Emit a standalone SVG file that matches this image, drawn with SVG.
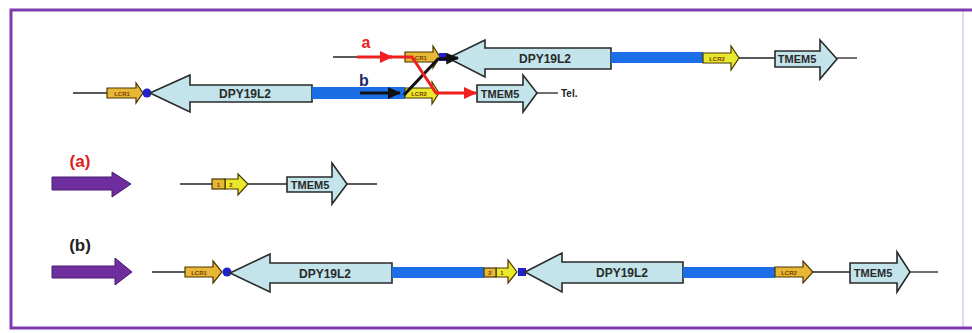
<svg xmlns="http://www.w3.org/2000/svg" width="972" height="333" viewBox="0 0 972 333">
<defs>
<style>
.frame{stroke:#7a3cae;stroke-width:3;fill:none}
.dna{stroke:#222;stroke-width:1.3;fill:none}
.gene{fill:#c2e4ea;stroke:#2a2a2a;stroke-width:1.6;stroke-linejoin:miter}
.lcr1{fill:#e6b836;stroke:#4a3500;stroke-width:1.2}
.lcr2{fill:#e8e82c;stroke:#4a3500;stroke-width:1.2}
.bar{fill:#1c6ee6}
.dot{fill:#2222cc}
.glab{font-family:"Liberation Sans",Arial,sans-serif;font-weight:bold;font-size:12px;fill:#2a2a2a;text-anchor:middle}
.llab{font-family:"Liberation Sans",Arial,sans-serif;font-weight:bold;font-size:6px;fill:#7a3a00;text-anchor:middle}
.purple{fill:#6e2e9e;stroke:#4a1c70;stroke-width:1}
.red{stroke:#f02020;stroke-width:3;fill:none}
.blk{stroke:#111;stroke-width:3;fill:none}
</style>
<marker id="ar" markerUnits="userSpaceOnUse" markerWidth="14" markerHeight="12" refX="12" refY="6" orient="auto"><path d="M0,0 L13,6 L0,12 z" fill="#f02020"/></marker>
<marker id="ab" markerUnits="userSpaceOnUse" markerWidth="14" markerHeight="12" refX="12" refY="6" orient="auto"><path d="M0,0 L13,6 L0,12 z" fill="#111"/></marker>
</defs>
<rect x="0" y="0" width="972" height="333" fill="#ffffff"/>
<line x1="963" y1="10" x2="963" y2="328" stroke="#e6d6ee" stroke-width="2"/>
<path class="frame" d="M972,10 L11,10 L11,328 L972,328"/>

<!-- top row, lower line -->
<g id="row1-lower">
<line class="dna" x1="73" y1="93" x2="108" y2="93"/>
<g id="lcr1-a"><polygon class="lcr1" points="107,88 136,88 136,83 143,93 136,103 136,98 107,98"/><text class="llab" x="122" y="95.5">LCR1</text></g>
<circle class="dot" cx="147" cy="93" r="4.5"/>
<g id="dpy-a"><polygon class="gene" points="150,93 190,75 190,85 312,85 312,102 190,102 190,112"/><text class="glab" x="245" y="98">DPY19L2</text></g>
<rect class="bar" x="312" y="87" width="93" height="12"/>
<g id="lcr2-a"><polygon class="lcr2" points="405,88 432,88 432,82 439,93 432,104 432,98 405,98"/><text class="llab" x="419" y="95.5">LCR2</text></g>
<line class="dna" x1="537" y1="93" x2="558" y2="93"/>
<g id="tmem-a"><polygon class="gene" points="477,85 523,85 523,75 537,93 523,112 523,102 477,102"/><text class="glab" x="500" y="97.5" style="font-size:11px">TMEM5</text></g>
<text x="561" y="97" style="font-family:'Liberation Sans',Arial,sans-serif;font-weight:bold;font-size:10px;fill:#222">Tel.</text>
</g>

<!-- top row, upper line -->
<g id="row1-upper">
<line class="dna" x1="333" y1="57" x2="406" y2="57"/>
<g id="lcr1-b"><polygon class="lcr1" points="405,52 433,52 433,46 440,57 433,68 433,62 405,62"/><text class="llab" x="419" y="59.5">LCR1</text></g>
<rect class="dot" x="439" y="53" width="8" height="8" fill="#2222aa"/>
<g id="dpy-b"><polygon class="gene" points="448,58 485,40 485,48 611,48 611,69 485,69 485,77"/><text class="glab" x="545" y="63">DPY19L2</text></g>
<rect class="bar" x="611" y="52" width="92" height="11"/>
<g id="lcr2-b"><polygon class="lcr2" points="703,53 731,53 731,46 739,58 731,70 731,63 703,63"/><text class="llab" x="717" y="60.5">LCR2</text></g>
<line class="dna" x1="739" y1="58" x2="775" y2="58"/>
<line class="dna" x1="837" y1="58" x2="857" y2="58"/>
<g id="tmem-b"><polygon class="gene" points="775,51 820,51 820,40 837,59 820,79 820,67 775,67"/><text class="glab" x="797" y="63" style="font-size:11px">TMEM5</text></g>
</g>

<!-- crossover connectors -->
<g id="connectors">
<text x="366" y="48" style="font-family:'Liberation Sans',Arial,sans-serif;font-weight:bold;font-size:16px;fill:#f02020;text-anchor:middle">a</text>
<text x="364" y="86" style="font-family:'Liberation Sans',Arial,sans-serif;font-weight:bold;font-size:16px;fill:#1a2a6a;text-anchor:middle">b</text>
<line class="red" x1="357" y1="57" x2="392" y2="57" marker-end="url(#ar)"/>
<line class="blk" x1="360" y1="93" x2="400" y2="93" marker-end="url(#ab)"/>
<path class="blk" d="M404,95 L438,59 L458,58" marker-end="url(#ab)"/>
<path class="red" d="M390,57 L412,57 L436,93 L476,93" marker-end="url(#ar)"/>
</g>

<!-- row (a) -->
<g id="row-a">
<text x="80" y="167" style="font-family:'Liberation Sans',Arial,sans-serif;font-weight:bold;font-size:17px;fill:#e02020;text-anchor:middle">(a)</text>
<polygon class="purple" points="52,177 112,177 112,172 131,184 112,197 112,190 52,190"/>
<line class="dna" x1="180" y1="184" x2="377" y2="184"/>
<g id="lcr-12"><polygon class="lcr2" points="225,179 238,179 238,174 248,184 238,195 238,189 225,189"/><rect class="lcr1" x="212" y="179" width="13" height="10"/><text class="llab" x="218.5" y="186.5">1</text><text class="llab" x="231" y="186.5">2</text></g>
<g id="tmem-c"><polygon class="gene" points="287,177 332,177 332,163 347,184 332,204 332,192 287,192"/><text class="glab" x="310" y="188.5" style="font-size:11px">TMEM5</text></g>
</g>

<!-- row (b) -->
<g id="row-b">
<text x="80" y="251" style="font-family:'Liberation Sans',Arial,sans-serif;font-weight:bold;font-size:17px;fill:#222;text-anchor:middle">(b)</text>
<polygon class="purple" points="52,266 115,266 115,258 132,272 115,285 115,278 52,278"/>
<line class="dna" x1="152" y1="272" x2="186" y2="272"/>
<g id="lcr1-c"><polygon class="lcr1" points="185,267 213,267 213,261 222,272 213,283 213,277 185,277"/><text class="llab" x="199" y="274.5">LCR1</text></g>
<circle class="dot" cx="227" cy="272" r="4.5"/>
<g id="dpy-c"><polygon class="gene" points="230,273 270,254 270,263 392,263 392,283 270,283 270,292"/><text class="glab" x="325" y="277.5">DPY19L2</text></g>
<rect class="bar" x="392" y="267" width="92" height="11"/>
<g id="lcr-21"><polygon class="lcr2" points="496,268 508,268 508,260 517,272 508,283 508,277 496,277"/><rect class="lcr1" x="484" y="268" width="12" height="9" fill="#e8c83a"/><text class="llab" x="490" y="275">2</text><text class="llab" x="502" y="275">1</text></g>
<rect x="518" y="268" width="8" height="8" fill="#2222cc"/>
<g id="dpy-d"><polygon class="gene" points="525,272 562,253 562,262 683,262 683,283 562,283 562,292"/><text class="glab" x="622" y="277">DPY19L2</text></g>
<rect class="bar" x="683" y="267" width="92" height="11"/>
<g id="lcr2-c"><polygon class="lcr1" points="775,267 803,267 803,261 813,272 803,283 803,277 775,277" fill="#e8d236"/><text class="llab" x="789" y="274.5">LCR2</text></g>
<line class="dna" x1="813" y1="272" x2="850" y2="272"/>
<line class="dna" x1="910" y1="272" x2="938" y2="272"/>
<g id="tmem-d"><polygon class="gene" points="850,263 897,263 897,252 910,272 897,292 897,283 850,283"/><text class="glab" x="873" y="277" style="font-size:11px">TMEM5</text></g>
</g>
</svg>
